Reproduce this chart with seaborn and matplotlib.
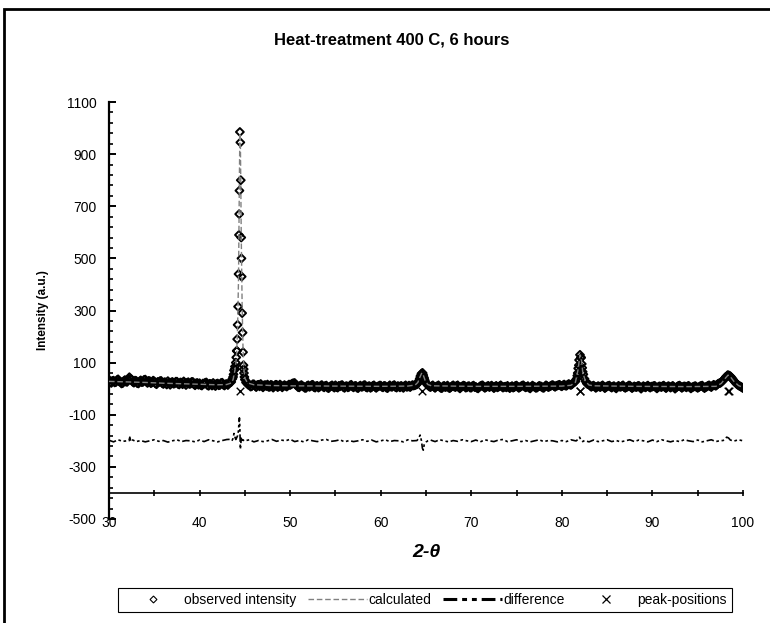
import matplotlib
matplotlib.use("Agg")
import matplotlib.pyplot as plt
import numpy as np
import pandas as pd
import seaborn as sns
from matplotlib.lines import Line2D
from matplotlib.patches import Rectangle
from matplotlib.ticker import MultipleLocator

# observed intensity on the 0.125 deg scan grid, 30 .. 100 (one row per 5 deg)
obs_step = 0.125
obs_y = [
    34, 25, 22, 30, 31, 24, 25, 33, 36, 28, 27, 20, 21, 29, 33, 27, 26, 35, 44, 38,
    35, 26, 23, 31, 30, 21, 20, 28, 32, 25, 26, 34, 35, 27, 22, 30, 29, 21, 24, 31,
    28, 20, 17, 26, 25, 29, 30, 21, 18, 25, 24, 16, 29, 22, 15, 24, 26, 19, 20, 27,
    27, 18, 16, 24, 23, 17, 28, 21, 14, 23, 25, 18, 19, 26, 26, 17, 13, 21, 22, 15,
    21, 14, 12, 20, 19, 23, 24, 13, 11, 19, 18, 12, 22, 15, 10, 19, 20, 13, 14, 22,
    23, 15, 12, 17, 18, 14, 21, 24, 26, 38, 55, 75, 100, 145, 315, 670, 945, 500, 215, 75,
    35, 24, 20, 15, 16, 8, 9, 17, 17, 11, 6, 14, 15, 9, 18, 12, 5, 13, 14, 10,
    16, 7, 7, 15, 13, 4, 9, 15, 15, 6, 9, 16, 12, 5, 10, 14, 11, 8, 12, 16,
    14, 17, 20, 21, 22, 15, 12, 6, 5, 12, 14, 9, 8, 3, 3, 11, 13, 7, 9, 14,
    15, 6, 4, 10, 11, 4, 7, 12, 14, 8, 5, 11, 12, 4, 2, 8, 10, 13, 8, 4,
    13, 6, 4, 11, 9, 13, 14, 6, 3, 9, 10, 5, 7, 13, 15, 8, 5, 10, 11, 4,
    2, 9, 12, 7, 8, 13, 14, 6, 4, 9, 10, 3, 6, 11, 13, 7, 3, 8, 9, 12,
    12, 7, 5, 11, 10, 4, 2, 9, 13, 8, 7, 12, 14, 6, 4, 10, 9, 5, 11, 8,
    3, 10, 13, 7, 8, 12, 6, 10, 14, 12, 13, 15, 17, 23, 32, 45, 58, 60, 44, 32,
    22, 16, 12, 8, 6, 10, 13, 7, 3, 8, 10, 13, 7, 3, 2, 9, 11, 6, 8, 12,
    4, 2, 6, 10, 13, 8, 6, 11, 13, 5, 1, 7, 9, 12, 11, 4, 5, 9, 10, 4,
    4, 10, 12, 6, 7, 3, 1, 6, 10, 12, 13, 7, 3, 6, 9, 11, 6, 9, 12, 7,
    2, 8, 11, 5, 7, 10, 13, 8, 4, 7, 8, 5, 11, 6, 2, 7, 10, 4, 6, 11,
    12, 7, 3, 6, 9, 12, 13, 8, 5, 7, 10, 4, 1, 7, 12, 9, 7, 3, 4, 8,
    11, 9, 8, 4, 3, 9, 13, 10, 6, 8, 10, 13, 14, 10, 7, 11, 12, 14, 15, 11,
    9, 13, 16, 12, 11, 15, 18, 16, 14, 17, 22, 25, 28, 38, 60, 90, 130, 120, 80, 55,
    38, 28, 20, 17, 16, 11, 7, 10, 12, 8, 3, 7, 10, 8, 6, 10, 13, 8, 2, 6,
    9, 11, 12, 7, 4, 8, 10, 5, 1, 7, 11, 8, 7, 10, 13, 6, 3, 6, 8, 12,
    12, 6, 2, 6, 9, 7, 6, 10, 11, 5, 0, 6, 10, 7, 5, 9, 12, 7, 4, 8,
    8, 10, 11, 5, 1, 6, 9, 8, 6, 10, 12, 6, 2, 7, 10, 8, 4, 8, 11, 6,
    0, 5, 8, 11, 12, 7, 3, 7, 9, 8, 5, 9, 11, 5, 1, 5, 7, 9, 10, 6,
    3, 6, 9, 11, 12, 6, 2, 6, 8, 11, 13, 9, 6, 11, 15, 13, 11, 15, 19, 21,
    22, 26, 30, 35, 40, 45, 48, 50, 50, 47, 42, 36, 30, 25, 20, 16, 13, 10, 8, 5,
    2,
]

# extra observed points measured across the reflections
peak1_x = [43.7, 43.8, 43.9, 44.05, 44.1, 44.15, 44.2, 44.3, 44.35, 44.4,
           44.45, 44.55, 44.6, 44.65, 44.7, 44.8, 44.85, 44.9, 44.95]
peak1_y = [45, 70, 85, 120, 145, 190, 245, 440, 590, 760,
           985, 800, 580, 430, 290, 140, 90, 60, 45]
peak2_x = [64.2, 64.3, 64.4, 64.6, 64.7, 64.8]
peak2_y = [27, 38, 50, 60, 52, 40]
peak3_x = [81.7, 81.8, 81.9, 82.1, 82.2, 82.3]
peak3_y = [50, 78, 110, 118, 95, 65]
peak4_x = [98.1, 98.3, 98.4, 98.6]
peak4_y = [45, 52, 51, 46]

# calculated profile
calc_x = [30, 32, 34, 36, 38, 40, 42, 43, 43.5, 43.7, 43.9, 44.0, 44.1, 44.2, 44.3,
          44.35, 44.4, 44.45, 44.5, 44.55, 44.6, 44.7, 44.8, 44.9, 45.0, 45.3, 46,
          48, 50, 55, 60, 63, 63.8, 64.1, 64.3, 64.5, 64.6, 64.7, 64.9, 65.2, 65.6,
          70, 75, 80, 81.0, 81.5, 81.8, 82.0, 82.15, 82.3, 82.6, 83.0, 83.5, 88, 94,
          97, 97.6, 98.0, 98.35, 98.6, 99.0, 99.5, 100]
calc_y = [28, 26, 24, 21, 19, 17, 15, 16, 22, 35, 70, 95, 140, 240, 420,
          620, 820, 980, 960, 790, 590, 320, 150, 75, 40, 22, 15,
          12, 11, 10, 9, 10, 14, 24, 42, 58, 60, 52, 32, 16, 11,
          9, 9, 10, 13, 25, 75, 130, 115, 65, 28, 14, 11, 9, 8,
          9, 20, 38, 52, 46, 28, 12, 5]

# difference curve (offset to -200) on a 0.5 deg grid
diff_step = 0.5
diff_y = [
    -198, -204, -196, -202, -200, -195, -203, -199, -204, -200,
    -196, -202, -199, -205, -200, -196, -203, -199, -200, -204,
    -197, -203, -196, -200, -204, -199, -195, -194, -198, -205,
    -200, -196, -204, -199, -203, -200, -195, -202, -197, -200,
    -194, -203, -199, -204, -196, -200, -203, -197, -195, -202,
    -200, -196, -204, -199, -203, -200, -196, -202, -197, -204,
    -200, -196, -203, -199, -200, -204, -196, -200, -199, -200,
    -204, -197, -203, -196, -200, -204, -199, -202, -196, -200,
    -203, -197, -204, -196, -200, -203, -197, -195, -203, -200,
    -196, -203, -199, -204, -200, -196, -203, -199, -200, -204,
    -199, -203, -196, -200, -194, -200, -204, -197, -203, -200,
    -196, -203, -199, -204, -200, -196, -203, -197, -200, -204,
    -197, -203, -196, -200, -204, -199, -203, -196, -200, -203,
    -197, -204, -200, -196, -203, -199, -200, -197, -204, -196,
    -200,
]
# difference detail around reflections
diff_feat_x = [32.2, 32.3, 32.4,
               43.6, 43.7, 43.8, 43.9, 44.0, 44.1, 44.2, 44.3, 44.35, 44.4, 44.45,
               44.5, 44.55, 44.6, 44.7, 44.8, 44.9,
               64.0, 64.2, 64.35, 64.5, 64.6, 64.7, 64.8, 65.0, 65.2,
               81.6, 81.8, 81.95, 82.1, 82.3, 82.5,
               97.8, 98.0, 98.2, 98.4, 98.6, 99.0]
diff_feat_y = [-200, -186, -201,
               -198, -190, -172, -185, -195, -188, -180, -160, -130, -112, -150,
               -232, -215, -190, -205, -196, -200,
               -199, -190, -178, -200, -228, -236, -215, -205, -200,
               -200, -193, -186, -196, -203, -199,
               -199, -192, -186, -189, -197, -201]
feat_windows = [(32.1, 32.5), (43.5, 45.0), (63.9, 65.3), (81.5, 82.6), (97.7, 99.1)]

# reflection positions
peak_pos_x = [44.46, 64.55, 81.95, 82.05, 98.3, 98.45]
peak_pos_y = [-10, -10, -10, -10, -10, -10]

title = "Heat-treatment 400 C, 6 hours"


def build_frames():
    ox = np.round(np.arange(30, 100 + obs_step / 2, obs_step), 3)
    assert len(ox) == len(obs_y)
    obs = pd.DataFrame({
        "two_theta": np.concatenate([ox, peak1_x, peak2_x, peak3_x, peak4_x]),
        "intensity": np.concatenate([obs_y, peak1_y, peak2_y, peak3_y, peak4_y]),
    })

    assert len(calc_x) == len(calc_y)
    calc = pd.DataFrame({"two_theta": calc_x, "intensity": calc_y})

    dx = np.round(np.arange(30, 100 + diff_step / 2, diff_step), 2)
    assert len(dx) == len(diff_y)
    keep = np.ones(len(dx), dtype=bool)
    for lo, hi in feat_windows:
        keep &= ~((dx > lo) & (dx < hi))
    diff = pd.DataFrame({
        "two_theta": np.concatenate([dx[keep], diff_feat_x]),
        "intensity": np.concatenate([np.asarray(diff_y)[keep], diff_feat_y]),
    }).sort_values("two_theta")

    pos = pd.DataFrame({"two_theta": peak_pos_x, "intensity": peak_pos_y})
    return obs, calc, diff, pos


def main():
    sns.set_style("ticks", {"axes.edgecolor": "black", "xtick.color": "black",
                            "ytick.color": "black", "text.color": "black",
                            "axes.labelcolor": "black"})
    plt.rcParams["font.family"] = ["Liberation Sans", "DejaVu Sans"]
    plt.rcParams["axes.unicode_minus"] = False

    obs, calc, diff, pos = build_frames()

    fig = plt.figure(figsize=(7.7, 6.23), dpi=100)
    ax = fig.add_axes([109 / 770, 1 - 519 / 623, 634 / 770, 417 / 623])

    calc_dash = (0, (4, 2))
    diff_dash = (0, (4.5, 1.6, 1.6, 1.6, 1.6, 1.6))

    sns.scatterplot(data=obs, x="two_theta", y="intensity", ax=ax, marker="D", s=16,
                    facecolor="none", edgecolor="black", linewidth=1.4, zorder=3)
    sns.lineplot(data=calc, x="two_theta", y="intensity", ax=ax, color="#808080",
                 lw=1.0, linestyle=calc_dash, estimator=None, zorder=4)
    sns.lineplot(data=diff, x="two_theta", y="intensity", ax=ax, color="black",
                 lw=1.2, linestyle=diff_dash, estimator=None, sort=False, zorder=3)
    sns.scatterplot(data=pos, x="two_theta", y="intensity", ax=ax, marker="x", s=30,
                    color="black", linewidth=1.0, zorder=5)

    ax.set_xlim(30, 100)
    ax.set_ylim(-500, 1100)
    ax.xaxis.set_major_locator(MultipleLocator(10))
    ax.xaxis.set_minor_locator(MultipleLocator(5))
    ax.yaxis.set_major_locator(MultipleLocator(200, offset=100))
    ax.yaxis.set_minor_locator(MultipleLocator(40, offset=20))

    for side in ("top", "right"):
        ax.spines[side].set_visible(False)
    ax.spines["bottom"].set_position(("data", -400))
    ax.spines["bottom"].set_linewidth(1.2)
    ax.spines["left"].set_linewidth(1.6)

    ax.tick_params(axis="x", which="both", direction="inout", length=5, width=1.2,
                   pad=14, labelsize=10)
    ax.tick_params(axis="x", which="minor", length=4)
    ax.tick_params(axis="y", which="major", direction="in", length=5, width=1.4,
                   pad=9, labelsize=10)
    ax.tick_params(axis="y", which="minor", direction="in", length=3, width=1.2)

    ax.set_ylabel("Intensity (a.u.)", fontsize=8.5, fontweight="bold")
    ax.yaxis.set_label_coords(-0.095, 0.5)
    ax.set_xlabel("2-θ", fontsize=14, fontweight="bold", fontstyle="italic")
    ax.xaxis.set_label_coords(0.5, -0.06)

    fig.text(392 / 770, 1 - 40 / 623, title, ha="center", va="center",
             fontsize=12, fontweight="bold")

    handles = [
        Line2D([], [], ls="none", marker="D", ms=3.5, mfc="none", mec="black", mew=0.8),
        Line2D([], [], color="#808080", lw=1.0, ls=calc_dash),
        Line2D([], [], color="black", lw=2.2, ls=diff_dash),
        Line2D([], [], ls="none", marker="x", ms=6, mec="black", mew=0.9),
    ]
    labels = ["observed intensity", "calculated", "difference", "peak-positions"]
    leg = fig.legend(handles, labels, loc="center", bbox_to_anchor=(425 / 770, 1 - 600 / 623),
                     ncol=4, frameon=True, fancybox=False, edgecolor="black",
                     framealpha=1, fontsize=10, handlelength=4.3, handletextpad=0.1,
                     columnspacing=0.8, borderpad=0.35)
    leg.get_frame().set_linewidth(0.8)

    # chart-area border (cropped on the right and bottom)
    fig.add_artist(Rectangle((4 / 770, -0.1), 1.2, 1 - 9 / 623 + 0.1, fill=False,
                             lw=2, edgecolor="black", transform=fig.transFigure,
                             clip_on=False))

    fig.savefig("out.png", dpi=100)
    plt.close(fig)


if __name__ == "__main__":
    main()
